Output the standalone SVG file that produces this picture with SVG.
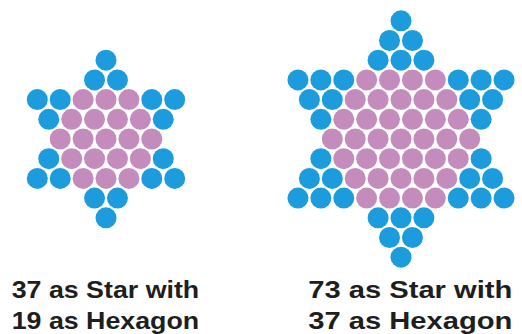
<svg xmlns="http://www.w3.org/2000/svg" width="522" height="334" viewBox="0 0 522 334">
<style>
.b{fill:#1c9cdd}
.p{fill:#c48cbd}
.t{font-family:"Liberation Sans",Arial,sans-serif;font-weight:bold;font-size:24px;fill:#1e1e1e}
</style>
<rect width="522" height="334" fill="#fff"/>
<g id="star37">
<circle class="b" cx="106" cy="60.2" r="10.5"/>
<circle class="b" cx="94.55" cy="79.9" r="10.5"/><circle class="b" cx="117.45" cy="79.9" r="10.5"/>
<circle class="b" cx="37.3" cy="99.6" r="10.5"/><circle class="b" cx="60.2" cy="99.6" r="10.5"/><circle class="p" cx="83.1" cy="99.6" r="10.5"/><circle class="p" cx="106" cy="99.6" r="10.5"/><circle class="p" cx="128.9" cy="99.6" r="10.5"/><circle class="b" cx="151.8" cy="99.6" r="10.5"/><circle class="b" cx="174.7" cy="99.6" r="10.5"/>
<circle class="b" cx="48.75" cy="119.3" r="10.5"/><circle class="p" cx="71.65" cy="119.3" r="10.5"/><circle class="p" cx="94.55" cy="119.3" r="10.5"/><circle class="p" cx="117.45" cy="119.3" r="10.5"/><circle class="p" cx="140.35" cy="119.3" r="10.5"/><circle class="b" cx="163.25" cy="119.3" r="10.5"/>
<circle class="p" cx="60.2" cy="139" r="10.5"/><circle class="p" cx="83.1" cy="139" r="10.5"/><circle class="p" cx="106" cy="139" r="10.5"/><circle class="p" cx="128.9" cy="139" r="10.5"/><circle class="p" cx="151.8" cy="139" r="10.5"/>
<circle class="b" cx="48.75" cy="158.7" r="10.5"/><circle class="p" cx="71.65" cy="158.7" r="10.5"/><circle class="p" cx="94.55" cy="158.7" r="10.5"/><circle class="p" cx="117.45" cy="158.7" r="10.5"/><circle class="p" cx="140.35" cy="158.7" r="10.5"/><circle class="b" cx="163.25" cy="158.7" r="10.5"/>
<circle class="b" cx="37.3" cy="178.4" r="10.5"/><circle class="b" cx="60.2" cy="178.4" r="10.5"/><circle class="p" cx="83.1" cy="178.4" r="10.5"/><circle class="p" cx="106" cy="178.4" r="10.5"/><circle class="p" cx="128.9" cy="178.4" r="10.5"/><circle class="b" cx="151.8" cy="178.4" r="10.5"/><circle class="b" cx="174.7" cy="178.4" r="10.5"/>
<circle class="b" cx="94.55" cy="198.1" r="10.5"/><circle class="b" cx="117.45" cy="198.1" r="10.5"/>
<circle class="b" cx="106" cy="217.8" r="10.5"/>
</g>
<g id="star73">
<circle class="b" cx="401" cy="20.8" r="10.5"/>
<circle class="b" cx="389.55" cy="40.5" r="10.5"/><circle class="b" cx="412.45" cy="40.5" r="10.5"/>
<circle class="b" cx="378.1" cy="60.2" r="10.5"/><circle class="b" cx="401" cy="60.2" r="10.5"/><circle class="b" cx="423.9" cy="60.2" r="10.5"/>
<circle class="b" cx="297.95" cy="79.9" r="10.5"/><circle class="b" cx="320.85" cy="79.9" r="10.5"/><circle class="b" cx="343.75" cy="79.9" r="10.5"/><circle class="p" cx="366.65" cy="79.9" r="10.5"/><circle class="p" cx="389.55" cy="79.9" r="10.5"/><circle class="p" cx="412.45" cy="79.9" r="10.5"/><circle class="p" cx="435.35" cy="79.9" r="10.5"/><circle class="b" cx="458.25" cy="79.9" r="10.5"/><circle class="b" cx="481.15" cy="79.9" r="10.5"/><circle class="b" cx="504.05" cy="79.9" r="10.5"/>
<circle class="b" cx="309.4" cy="99.6" r="10.5"/><circle class="b" cx="332.3" cy="99.6" r="10.5"/><circle class="p" cx="355.2" cy="99.6" r="10.5"/><circle class="p" cx="378.1" cy="99.6" r="10.5"/><circle class="p" cx="401" cy="99.6" r="10.5"/><circle class="p" cx="423.9" cy="99.6" r="10.5"/><circle class="p" cx="446.8" cy="99.6" r="10.5"/><circle class="b" cx="469.7" cy="99.6" r="10.5"/><circle class="b" cx="492.6" cy="99.6" r="10.5"/>
<circle class="b" cx="320.85" cy="119.3" r="10.5"/><circle class="p" cx="343.75" cy="119.3" r="10.5"/><circle class="p" cx="366.65" cy="119.3" r="10.5"/><circle class="p" cx="389.55" cy="119.3" r="10.5"/><circle class="p" cx="412.45" cy="119.3" r="10.5"/><circle class="p" cx="435.35" cy="119.3" r="10.5"/><circle class="p" cx="458.25" cy="119.3" r="10.5"/><circle class="b" cx="481.15" cy="119.3" r="10.5"/>
<circle class="p" cx="332.3" cy="139" r="10.5"/><circle class="p" cx="355.2" cy="139" r="10.5"/><circle class="p" cx="378.1" cy="139" r="10.5"/><circle class="p" cx="401" cy="139" r="10.5"/><circle class="p" cx="423.9" cy="139" r="10.5"/><circle class="p" cx="446.8" cy="139" r="10.5"/><circle class="p" cx="469.7" cy="139" r="10.5"/>
<circle class="b" cx="320.85" cy="158.7" r="10.5"/><circle class="p" cx="343.75" cy="158.7" r="10.5"/><circle class="p" cx="366.65" cy="158.7" r="10.5"/><circle class="p" cx="389.55" cy="158.7" r="10.5"/><circle class="p" cx="412.45" cy="158.7" r="10.5"/><circle class="p" cx="435.35" cy="158.7" r="10.5"/><circle class="p" cx="458.25" cy="158.7" r="10.5"/><circle class="b" cx="481.15" cy="158.7" r="10.5"/>
<circle class="b" cx="309.4" cy="178.4" r="10.5"/><circle class="b" cx="332.3" cy="178.4" r="10.5"/><circle class="p" cx="355.2" cy="178.4" r="10.5"/><circle class="p" cx="378.1" cy="178.4" r="10.5"/><circle class="p" cx="401" cy="178.4" r="10.5"/><circle class="p" cx="423.9" cy="178.4" r="10.5"/><circle class="p" cx="446.8" cy="178.4" r="10.5"/><circle class="b" cx="469.7" cy="178.4" r="10.5"/><circle class="b" cx="492.6" cy="178.4" r="10.5"/>
<circle class="b" cx="297.95" cy="198.1" r="10.5"/><circle class="b" cx="320.85" cy="198.1" r="10.5"/><circle class="b" cx="343.75" cy="198.1" r="10.5"/><circle class="p" cx="366.65" cy="198.1" r="10.5"/><circle class="p" cx="389.55" cy="198.1" r="10.5"/><circle class="p" cx="412.45" cy="198.1" r="10.5"/><circle class="p" cx="435.35" cy="198.1" r="10.5"/><circle class="b" cx="458.25" cy="198.1" r="10.5"/><circle class="b" cx="481.15" cy="198.1" r="10.5"/><circle class="b" cx="504.05" cy="198.1" r="10.5"/>
<circle class="b" cx="378.1" cy="217.8" r="10.5"/><circle class="b" cx="401" cy="217.8" r="10.5"/><circle class="b" cx="423.9" cy="217.8" r="10.5"/>
<circle class="b" cx="389.55" cy="237.5" r="10.5"/><circle class="b" cx="412.45" cy="237.5" r="10.5"/>
<circle class="b" cx="401" cy="257.2" r="10.5"/>
</g>
<g id="label37">
<text class="t" x="11.7" y="297.5" textLength="187.5" lengthAdjust="spacingAndGlyphs">37 as Star with</text>
<text class="t" x="11.7" y="328.5" textLength="187.5" lengthAdjust="spacingAndGlyphs">19 as Hexagon</text>
</g>
<g id="label73">
<text class="t" x="308.3" y="297.5" textLength="204" lengthAdjust="spacingAndGlyphs">73 as Star with</text>
<text class="t" x="308.3" y="328.5" textLength="204" lengthAdjust="spacingAndGlyphs">37 as Hexagon</text>
</g>
</svg>
